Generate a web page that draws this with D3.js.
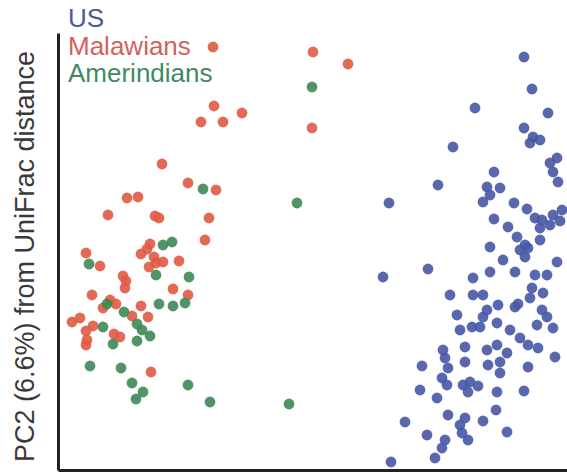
<!DOCTYPE html>
<html>
<head>
<meta charset="utf-8">
<script src="https://cdn.jsdelivr.net/npm/d3@7"></script>
<style>
  html, body { margin: 0; padding: 0; background: #fff; }
  svg { display: block; font-family: "Liberation Sans", Arial, Helvetica, sans-serif; }
</style>
</head>
<body>
<svg id="chart" width="567" height="472"></svg>
<script>
// PCoA scores (PC1, PC2) of UniFrac distances, one pair per sample
const usPC1 = [0.211,0.219,0.162,0.235,0.211,0.220,0.227,0.217,0.140,0.244,0.237,0.240,0.245,0.181,0.125,0.174,0.187,0.177,0.170,0.076,
  0.201,0.214,0.222,0.229,0.240,0.249,0.247,0.237,0.227,0.181,0.195,0.204,0.227,0.212,0.177,0.207,0.212,0.215,0.190,0.244,
  0.177,0.202,0.222,0.234,0.160,0.115,0.070,0.137,0.160,0.170,0.219,0.230,0.217,0.185,0.202,0.205,0.174,0.229,0.234,0.144,
  0.170,0.184,0.224,0.240,0.147,0.159,0.167,0.197,0.207,0.152,0.130,0.174,0.184,0.194,0.215,0.225,0.242,0.109,0.132,0.135,
  0.152,0.175,0.187,0.187,0.215,0.129,0.134,0.150,0.157,0.165,0.155,0.107,0.124,0.184,0.211,0.183,0.135,0.152,0.147,0.149,
  0.170,0.092,0.155,0.114,0.194,0.132,0.129,0.122,0.078];
const usPC2 = [0.193,0.161,0.142,0.137,0.122,0.113,0.110,0.107,0.103,0.092,0.087,0.078,0.068,0.078,0.065,0.063,0.062,0.055,0.048,0.047,
  0.047,0.041,0.032,0.030,0.035,0.040,0.029,0.025,0.022,0.031,0.023,0.013,0.010,0.005,0.003,0.000,-0.007,0.002,-0.010,-0.012,
  -0.022,-0.022,-0.025,-0.025,-0.028,-0.019,-0.027,-0.045,-0.045,-0.045,-0.038,-0.043,-0.048,-0.055,-0.057,-0.054,-0.060,-0.060,-0.067,-0.065,
  -0.067,-0.073,-0.075,-0.078,-0.080,-0.077,-0.077,-0.080,-0.088,-0.097,-0.100,-0.100,-0.095,-0.103,-0.095,-0.098,-0.107,-0.116,-0.108,-0.118,
  -0.112,-0.115,-0.112,-0.123,-0.117,-0.128,-0.135,-0.135,-0.132,-0.136,-0.142,-0.140,-0.148,-0.142,-0.141,-0.160,-0.165,-0.168,-0.175,-0.183,
  -0.171,-0.172,-0.190,-0.185,-0.182,-0.190,-0.198,-0.208,-0.212];

const malawiPC1 = [-0.100,0.000,0.035,-0.001,-0.099,-0.112,-0.090,-0.071,-0.151,-0.125,-0.097,-0.186,-0.175,-0.205,-0.158,-0.154,-0.104,-0.108,-0.163,-0.166,
  -0.227,-0.172,-0.159,-0.157,-0.150,-0.134,-0.213,-0.164,-0.190,-0.187,-0.188,-0.140,-0.125,-0.221,-0.203,-0.197,-0.210,-0.172,-0.181,-0.165,
  -0.233,-0.241,-0.220,-0.227,-0.226,-0.227,-0.199,-0.193,-0.162];
const malawiPC2 = [0.203,0.198,0.186,0.122,0.144,0.128,0.128,0.137,0.086,0.067,0.060,0.052,0.053,0.035,0.034,0.032,0.032,0.010,0.006,0.001,
  -0.003,-0.004,-0.007,-0.013,-0.012,-0.011,-0.016,-0.017,-0.026,-0.031,-0.038,-0.039,-0.045,-0.045,-0.050,-0.054,-0.058,-0.056,-0.066,-0.067,
  -0.068,-0.072,-0.076,-0.081,-0.090,-0.095,-0.084,-0.087,-0.122];

const amerPC1 = [-0.001,-0.110,-0.016,-0.150,-0.141,-0.224,-0.157,-0.124,-0.154,-0.140,-0.128,-0.206,-0.189,-0.210,-0.176,-0.171,-0.163,-0.176,-0.200,
  -0.223,-0.192,-0.181,-0.170,-0.177,-0.125,-0.103,-0.024];
const amerPC2 = [0.163,0.061,0.047,0.005,0.008,-0.014,-0.025,-0.027,-0.054,-0.056,-0.053,-0.054,-0.062,-0.077,-0.074,-0.080,-0.086,-0.091,-0.094,
  -0.116,-0.118,-0.133,-0.142,-0.149,-0.135,-0.152,-0.154];

const groupNames = ["US", "Malawians", "Amerindians"];
const dotColors = ["#4757a6", "#e05a44", "#3d8856"];
const labelColors = ["#4b5a9c", "#d3625c", "#3f8a63"];
const yTitle = "PC2 (6.6%) from UniFrac distance";

const svg = d3.select("#chart");
const margin = { left: 58, right: -1, top: 33, bottom: 2 };
const W = 567, H = 472;

const x = d3.scaleLinear().domain([-0.255, 0.255]).range([margin.left, W - margin.right]);
const y = d3.scaleLinear().domain([-0.22, 0.217]).range([H - margin.bottom, margin.top]);

const groups = [
  { name: groupNames[0], pc1: usPC1, pc2: usPC2 },
  { name: groupNames[1], pc1: malawiPC1, pc2: malawiPC2 },
  { name: groupNames[2], pc1: amerPC1, pc2: amerPC2 }
];

// points: US first, then Malawians, then Amerindians on top
groups.forEach((g, gi) => {
  const pts = g.pc1.map((v, i) => ({ px: v, py: g.pc2[i] }));
  svg.append("g")
    .selectAll("circle")
    .data(pts)
    .join("circle")
    .attr("cx", d => x(d.px))
    .attr("cy", d => y(d.py))
    .attr("r", 5.4)
    .attr("fill", dotColors[gi])
    .attr("fill-opacity", 0.9);
});

// axes: bare lines without ticks
const xAxis = svg.append("g")
  .attr("transform", `translate(0,${y.range()[0]})`)
  .call(d3.axisBottom(x).ticks(0).tickSize(0).tickSizeOuter(0));
const yAxis = svg.append("g")
  .attr("transform", `translate(${x.range()[0]},0)`)
  .call(d3.axisLeft(y).ticks(0).tickSize(0).tickSizeOuter(0));
[xAxis, yAxis].forEach(a => a.select(".domain")
  .attr("stroke", "#222").attr("stroke-width", 3));

// y-axis title
svg.append("text")
  .attr("transform", `translate(34,${(48 + 465) / 2}) rotate(-90)`)
  .attr("text-anchor", "middle")
  .attr("font-size", 27)
  .attr("fill", "#3a3a3a")
  .text(yTitle);

// legend
svg.append("g")
  .selectAll("text")
  .data(groupNames)
  .join("text")
  .attr("x", 68)
  .attr("y", (d, i) => 27 + i * 27.5)
  .attr("font-size", 26)
  .attr("fill", (d, i) => labelColors[i])
  .text(d => d);
</script>
</body>
</html>
